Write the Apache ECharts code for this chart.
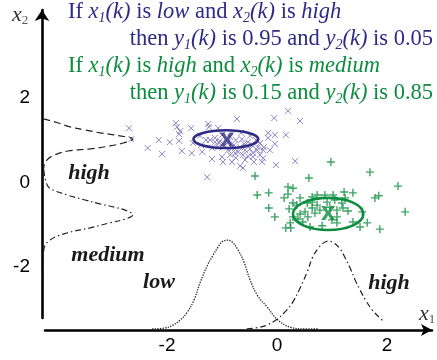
<!DOCTYPE html>
<html><head><meta charset="utf-8">
<script src="https://cdn.jsdelivr.net/npm/echarts@6/dist/echarts.min.js"></script>
<style>html,body{margin:0;padding:0;background:#fff}#c{width:437px;height:360px}</style>
</head><body><div id="c"></div>
<script>
// ---------- data ----------
const xTicks = [-2, 0, 2];
const yTicks = [-2, 0, 2];

// class 1 samples (x markers)
const crossPts = [
[-2.69,1.29],[-2.65,1.03],[-1.84,1.41],[-1.82,1.32],[-1.76,1.22],[-1.78,1.15],[-1.56,1.29],[-1.25,1.39],
[-1.24,1.32],[-1.07,1.29],[-2.15,1.01],[-1.95,0.96],[-1.78,0.99],[-2.35,0.82],[-2.09,0.68],[-1.73,0.75],
[-1.55,0.70],[-1.38,0.89],[-1.53,0.94],[-1.36,0.73],[-1.18,0.56],[-1.00,0.61],[-0.98,0.49],[-1.27,0.13],
[-1.22,1.01],[-1.13,0.96],[-1.05,0.94],[0.20,1.70],[-0.05,1.53],[0.42,1.46],[-0.73,1.51],[-0.16,1.18],
[-0.04,1.13],[0.16,1.13],[-0.16,1.06],[-0.31,0.94],[-0.24,0.84],[-0.25,0.77],[-0.36,0.77],[-0.44,0.70],
[-0.31,0.66],[-0.25,0.58],[-0.27,0.49],[-0.44,0.61],[-0.62,0.66],[-0.58,0.54],[-0.76,0.70],[-0.85,0.66],
[-0.89,0.77],[-0.62,0.35],[-0.67,0.40],[-0.02,0.42],[0.33,0.51],[-1.13,1.06],[-1.00,1.13],[-0.85,1.08],
[-0.75,1.01],[-0.64,1.03],[-0.53,0.96],[-0.45,0.89],[-0.67,0.84],[-0.82,0.82],[-0.95,0.87],[-1.07,0.84],
[-0.58,0.77],[-0.49,0.80],[-0.71,0.73],[-0.89,0.96],[-0.38,1.01],[-0.78,0.89],[-0.60,0.92],[-1.04,0.99],
[-1.18,0.82],[-1.29,1.01],[-1.40,1.11],[-0.49,1.11],[-0.65,1.18],[-0.35,0.84],[-0.13,0.77],[-0.04,0.92],
[-0.53,0.63],[-0.75,0.59],[-0.42,0.49],[-0.82,0.49]
];

// class 2 samples (+ markers)
const plusPts = [
[0.98,0.49],[-0.40,0.16],[0.58,0.11],[-0.36,-0.29],[-0.15,-0.24],[0.20,-0.10],[0.29,-0.13],[0.13,-0.36],
[0.20,-0.27],[-0.15,-0.60],[-0.04,-0.81],[0.22,-0.62],[0.29,-0.48],[0.42,-0.36],[0.36,-0.53],[0.29,-0.81],
[0.38,-0.86],[0.47,-0.93],[0.24,-0.95],[0.16,-1.07],[0.25,-1.07],[0.60,-1.05],[0.56,-0.81],[0.64,-0.34],
[0.73,-0.29],[0.87,-0.29],[1.02,-0.29],[1.05,-0.41],[0.51,-0.69],[0.64,-0.60],[0.73,-0.53],[0.78,-0.65],
[0.69,-0.72],[0.91,-0.46],[0.96,-0.58],[1.09,-0.65],[1.09,-0.81],[1.00,-0.88],[0.64,-0.46],[0.55,-0.48],
[1.69,0.25],[2.20,-0.08],[1.85,-0.31],[1.78,-0.36],[1.38,-0.24],[1.22,-0.22],[1.24,-0.36],[1.18,-0.48],
[1.29,-0.67],[1.20,-0.60],[1.55,-0.69],[2.33,-0.69],[1.09,-0.95],[1.38,-0.93],[1.64,-0.95],[1.51,-1.05],
[1.87,-1.10],[0.82,-1.02],[0.42,-0.74]
];

// cluster prototypes and their ellipses [cx, cy, rx, ry]
const centers = [[-0.91, 1.02], [0.93, -0.72]];
const ellipses = [[-0.93, 1.03, 0.59, 0.21], [0.93, -0.74, 0.64, 0.38]];

// membership functions on x1 (drawn on the x axis)
const lowCurve = [
[-2.27,-3.46],[-2.04,-3.44],[-1.89,-3.37],[-1.76,-3.25],[-1.64,-3.08],[-1.51,-2.78],[-1.40,-2.37],[-1.27,-1.97],
[-1.16,-1.71],[-1.07,-1.52],[-1.00,-1.40],[-0.91,-1.36],[-0.82,-1.40],[-0.71,-1.59],[-0.60,-1.88],[-0.49,-2.30],
[-0.35,-2.68],[-0.18,-2.94],[0.00,-3.23],[0.24,-3.42],[0.51,-3.46],[0.75,-3.46]
];
const highXCurve = [
[-0.55,-3.46],[-0.35,-3.43],[-0.18,-3.37],[0.00,-3.23],[0.16,-3.04],[0.29,-2.82],[0.42,-2.49],[0.55,-2.11],
[0.65,-1.76],[0.75,-1.55],[0.84,-1.43],[0.93,-1.38],[1.04,-1.43],[1.15,-1.57],[1.24,-1.78],[1.33,-2.02],
[1.42,-2.30],[1.51,-2.54],[1.62,-2.80],[1.73,-3.01],[1.87,-3.20],[1.96,-3.30]
];
// membership functions on x2 (drawn on the y axis)
const highYCurve = [
[-4.25,1.51],[-4.04,1.44],[-3.76,1.32],[-3.49,1.25],[-3.22,1.18],[-2.86,1.11],[-2.62,1.03],[-2.80,0.94],
[-3.04,0.87],[-3.40,0.80],[-3.80,0.75],[-4.04,0.66],[-4.18,0.54],[-4.24,0.37],[-4.25,0.14]
];
const mediumCurve = [
[-4.24,0.30],[-4.20,0.02],[-4.13,-0.13],[-3.82,-0.29],[-3.49,-0.41],[-3.22,-0.50],[-2.95,-0.58],[-2.76,-0.65],
[-2.62,-0.76],[-2.76,-0.86],[-3.04,-0.95],[-3.40,-1.07],[-3.82,-1.19],[-4.13,-1.36],[-4.24,-1.59],[-4.25,-1.95],
[-4.25,-2.37]
];

// ---------- styles ----------
const BLUE = '#2f2a85', XCOL = '#6f68b8', GREEN = '#0c8c3e', INK = '#1a1a1a';
const SERIF = '"Liberation Serif","Times New Roman",serif';
const SANS = '"Liberation Sans",Arial,sans-serif';

const chart = echarts.init(document.getElementById('c'), null, {renderer: 'canvas'});

function richFor(color) {
  return {
    n: {fontFamily: SERIF, fontSize: 22.5, fill: color, lineHeight: 26},
    i: {fontFamily: SERIF, fontSize: 22.5, fontStyle: 'italic', fill: color, lineHeight: 26},
    s: {fontFamily: SERIF, fontSize: 14, fontStyle: 'italic', fill: color, lineHeight: 14, verticalAlign: 'bottom'}
  };
}
function ruleText(str, x, y, color, align) {
  return {type: 'text', x: x, y: y, silent: true,
    style: {text: str, rich: richFor(color), fill: color, font: '22.5px ' + SERIF,
      textAlign: align, textVerticalAlign: 'middle'}};
}
function label(str, x, y) {
  return {type: 'text', x: x, y: y, silent: true,
    style: {text: str, fill: INK, font: 'italic bold 22px ' + SERIF, textAlign: 'center', textVerticalAlign: 'middle'}};
}
function axisName(v, sub, x, y) {
  return {type: 'text', x: x, y: y, silent: true,
    style: {text: '{i|' + v + '}{s|' + sub + '}', textAlign: 'left', textVerticalAlign: 'middle',
      rich: {i: {fontFamily: SERIF, fontSize: 22, fontStyle: 'italic', fill: '#333', lineHeight: 24},
             s: {fontFamily: SERIF, fontSize: 13, fill: '#555', lineHeight: 13, verticalAlign: 'bottom'}}}};
}

const hidden = {show: false};
const lineSeries = (data, dash, width) => ({
  type: 'line', data: data, xAxisIndex: 0, yAxisIndex: 0, smooth: 0.4, showSymbol: false, silent: true,
  lineStyle: {color: '#222', width: width, type: dash}, z: 2
});
const ellipseSeries = (idx, color) => ({
  type: 'custom', xAxisIndex: 0, yAxisIndex: 0, data: [ellipses[idx]], silent: true, z: 4,
  renderItem: (params, api) => {
    const c = api.coord([api.value(0), api.value(1)]);
    const s = api.size([api.value(2), api.value(3)]);
    return {type: 'ellipse', shape: {cx: c[0], cy: c[1], rx: s[0], ry: s[1]},
      style: {fill: 'none', stroke: color, lineWidth: 2.6}};
  }
});

const option = {
  animation: false,
  backgroundColor: '#fff',
  grid: [
    {left: 42, right: 2, top: 12, bottom: 30},
    {left: 45, right: 5, top: 12, bottom: 30},
    {left: 42, right: 2, top: 10, bottom: 42}
  ],
  xAxis: [
    {gridIndex: 0, type: 'value', min: -4.2727, max: 2.8727, show: false},
    {gridIndex: 1, type: 'value', min: -4.2182, max: 2.8182,
      axisLine: {show: true, onZero: false, lineStyle: {color: '#000', width: 2.6}, symbol: ['none', 'arrow'], symbolSize: [9, 11]},
      axisTick: {show: false}, splitLine: hidden,
      axisLabel: {customValues: xTicks, color: '#000', fontFamily: SANS, fontSize: 19, margin: 6}},
    {gridIndex: 2, type: 'value', min: -4.2727, max: 2.8727, show: false}
  ],
  yAxis: [
    {gridIndex: 0, type: 'value', min: -3.4864, max: 4.0402, show: false},
    {gridIndex: 1, type: 'value', min: -3.4864, max: 4.0402, show: false},
    {gridIndex: 2, type: 'value', min: -3.2024, max: 4.0876,
      axisLine: {show: true, onZero: false, lineStyle: {color: '#000', width: 2.6}, symbol: ['none', 'arrow'], symbolSize: [11, 11]},
      axisTick: {show: false}, splitLine: hidden,
      axisLabel: {customValues: yTicks, color: '#000', fontFamily: SANS, fontSize: 19, margin: 12}}
  ],
  series: [
    lineSeries(lowCurve, 'dotted', 1.3),
    lineSeries(highXCurve, [6, 3, 1.5, 3], 1.2),
    lineSeries(highYCurve, [7, 4], 1.2),
    lineSeries(mediumCurve, [6, 3, 1.5, 3], 1.2),
    {type: 'scatter', data: crossPts, xAxisIndex: 0, yAxisIndex: 0, silent: true, z: 3,
      symbol: 'path://M0,0L10,10M10,0L0,10', symbolSize: 6,
      itemStyle: {color: 'rgba(0,0,0,0)', borderColor: XCOL, borderWidth: 1}},
    {type: 'scatter', data: plusPts, xAxisIndex: 0, yAxisIndex: 0, silent: true, z: 3,
      symbol: 'path://M5,0L5,10M0,5L10,5', symbolSize: 8,
      itemStyle: {color: 'rgba(0,0,0,0)', borderColor: GREEN, borderWidth: 1.4}},
    ellipseSeries(0, BLUE),
    ellipseSeries(1, GREEN),
    {type: 'scatter', data: [centers[0]], xAxisIndex: 0, yAxisIndex: 0, silent: true, z: 5,
      symbol: 'path://M0,0L3,0L5,3.4L7,0L10,0L6.6,5L10,10L7,10L5,6.6L3,10L0,10L3.4,5Z', symbolSize: 14,
      itemStyle: {color: BLUE}},
    {type: 'scatter', data: [centers[1]], xAxisIndex: 0, yAxisIndex: 0, silent: true, z: 5,
      symbol: 'path://M0,0L3,0L5,3.4L7,0L10,0L6.6,5L10,10L7,10L5,6.6L3,10L0,10L3.4,5Z', symbolSize: 14,
      itemStyle: {color: GREEN}}
  ],
  graphic: [
    ruleText('{n|If }{i|x}{s|1}{i|(k)}{n| is }{i|low}{n| and }{i|x}{s|2}{i|(k)}{n| is }{i|high}', 68, 12, BLUE, 'left'),
    ruleText('{n|then }{i|y}{s|1}{i|(k)}{n| is 0.95 and }{i|y}{s|2}{i|(k)}{n| is 0.05}', 433, 39, BLUE, 'right'),
    ruleText('{n|If }{i|x}{s|1}{i|(k)}{n| is }{i|high}{n| and }{i|x}{s|2}{i|(k)}{n| is }{i|medium}', 68, 66, GREEN, 'left'),
    ruleText('{n|then }{i|y}{s|1}{i|(k)}{n| is 0.15 and }{i|y}{s|2}{i|(k)}{n| is 0.85}', 433, 93, GREEN, 'right'),
    label('high', 89, 173),
    label('medium', 108, 255),
    label('low', 159, 282),
    label('high', 389, 283),
    axisName('x', '2', 12, 15),
    axisName('x', '1', 419, 314)
  ]
};
chart.setOption(option);
</script>
</body></html>
